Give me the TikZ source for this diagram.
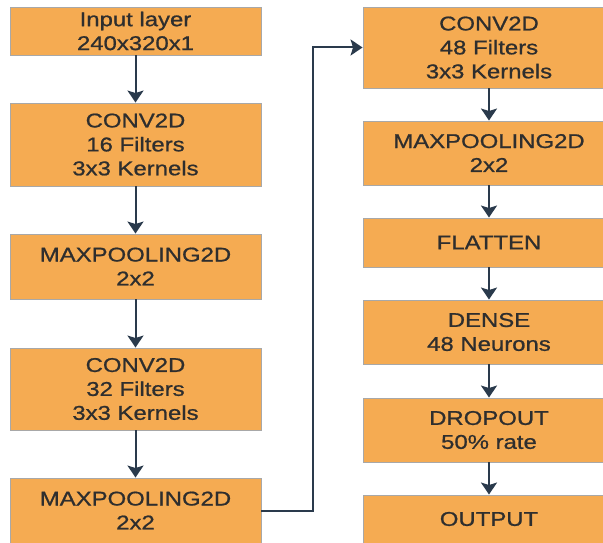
\documentclass[tikz,border=0pt]{standalone}
\usepackage{fontspec}
\setmainfont{Liberation Sans}[FakeStretch=1.2, FakeBold=0.9]
\usetikzlibrary{arrows.meta}
\definecolor{boxfill}{HTML}{F5AB52}
\definecolor{boxline}{HTML}{A8A8A8}
\definecolor{linkcol}{HTML}{2A3A4C}
\definecolor{txtcol}{HTML}{2E2E2E}
\tikzset{
  layer/.style={draw=boxline, line width=0.9bp, fill=boxfill, text=txtcol,
    align=center, inner sep=0pt, font=\fontsize{20}{24}\selectfont},
  leftlayer/.style={layer, minimum width=251bp},
  rightlayer/.style={layer, minimum width=252bp},
  conn/.style={draw=linkcol, line width=2bp,
    -{Stealth[length=12bp, width=16bp, inset=2.5bp]}}
}
\begin{document}
\begin{tikzpicture}[x=1bp, y=-1bp]
  \useasboundingbox (0,0) rectangle (603,543);
  \clip (0,0) rectangle (603,543);
  % left column
  \node[leftlayer, minimum height=48bp] (inp) at (135.5,31) {Input layer\\240x320x1};
  \node[leftlayer, minimum height=83bp] (conv1) at (135.5,144.5) {CONV2D\\16 Filters\\3x3 Kernels};
  \node[leftlayer, minimum height=65bp] (pool1) at (135.5,266.5) {MAXPOOLING2D\\2x2};
  \node[leftlayer, minimum height=82bp] (conv2) at (135.5,389) {CONV2D\\32 Filters\\3x3 Kernels};
  \node[leftlayer, minimum height=65bp] (pool2) at (135.5,510.5) {MAXPOOLING2D\\2x2};
  % right column
  \node[rightlayer, minimum height=81bp] (conv3) at (489,47.5) {CONV2D\\48 Filters\\3x3 Kernels};
  \node[rightlayer, minimum height=64bp] (pool3) at (489,153) {MAXPOOLING2D\\2x2};
  \node[rightlayer, minimum height=49bp] (flat) at (489,242.5) {FLATTEN};
  \node[rightlayer, minimum height=64bp] (dense) at (489,332) {DENSE\\48 Neurons};
  \node[rightlayer, minimum height=64bp] (drop) at (489,430) {DROPOUT\\50\% rate};
  \node[rightlayer, minimum height=48bp] (out) at (489,519) {OUTPUT};
  % connectors
  \draw[conn] (inp) -- (conv1);
  \draw[conn] (conv1) -- (pool1);
  \draw[conn] (pool1) -- (conv2);
  \draw[conn] (conv2) -- (pool2);
  \coordinate (bus) at (313,0);
  \draw[conn] (pool2.east) -- (pool2.east -| bus) -- (bus |- conv3.west) -- (conv3.west);
  \draw[conn] (conv3) -- (pool3);
  \draw[conn] (pool3) -- (flat);
  \draw[conn] (flat) -- (dense);
  \draw[conn] (dense) -- (drop);
  \draw[conn] (drop) -- (out);
\end{tikzpicture}
\end{document}
